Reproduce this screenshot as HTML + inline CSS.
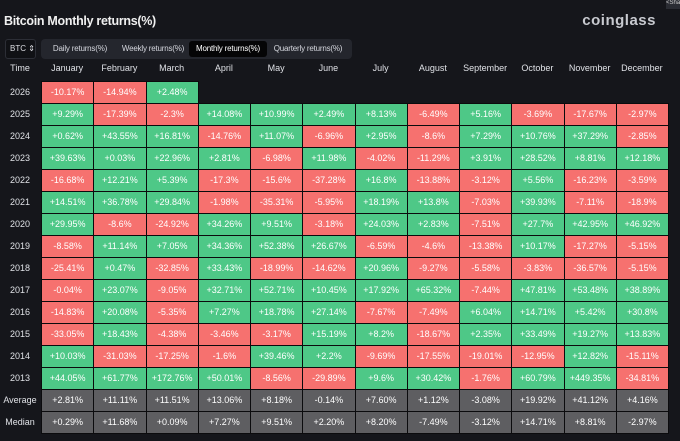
<!DOCTYPE html>
<html><head><meta charset="utf-8">
<style>
html,body{margin:0;padding:0;background:#15161b;width:680px;height:441px;overflow:hidden;font-family:"Liberation Sans",sans-serif;color:#e6e8ee}
#title{position:absolute;left:4px;top:14px;font-size:12.5px;font-weight:bold;color:#f0f0f0;letter-spacing:-0.3px}
#logo{position:absolute;right:24px;top:12px;font-size:15px;font-weight:bold;color:#c8cad0;letter-spacing:0.5px}
#share{position:absolute;right:0;top:0;width:14px;height:9px;background:#2a2c33;font-size:6px;color:#ccc}
#btc{position:absolute;left:5px;top:39px;width:29px;height:18px;border:1px solid #2c2e36;border-radius:3px;background:#101115;font-size:8px;line-height:18px;text-indent:4px;color:#dcdde2}
#tabs{position:absolute;left:41px;top:39px;width:311px;height:20px;background:#24262d;border-radius:4px}
.tab{position:absolute;top:2px;height:16px;line-height:16px;font-size:8px;color:#d5d7de;text-align:center;border-radius:3px;letter-spacing:-0.2px}
.tab.active{background:#050506;color:#fff}
.hdr{position:absolute;top:63px;height:14px;font-size:9px;color:#dfe1e6;text-align:center}
.ylab{position:absolute;left:0;width:40px;font-size:9px;color:#dfe1e6;text-align:center}
.cell{position:absolute;font-size:9px;color:#fff;text-align:center;box-sizing:border-box;border:1px solid #0b0b0d}
</style></head><body>
<div id="title">Bitcoin Monthly returns(%)</div>
<div id="logo">coinglass</div>
<div id="share">&lt;Sha</div>
<div id="btc">BTC ⇕</div>
<div id="tabs">
<div class="tab" style="left:2px;width:74px">Daily returns(%)</div>
<div class="tab" style="left:76px;width:72px">Weekly returns(%)</div>
<div class="tab active" style="left:148px;width:78px">Monthly returns(%)</div>
<div class="tab" style="left:226px;width:82px">Quarterly returns(%)</div>
</div>
<div id="grid"></div>
<script>
const months=["January","February","March","April","May","June","July","August","September","October","November","December"];
const years=["2026","2025","2024","2023","2022","2021","2020","2019","2018","2017","2016","2015","2014","2013"];
const returns=[
[-10.17,-14.94,2.48],
[9.29,-17.39,-2.3,14.08,10.99,2.49,8.13,-6.49,5.16,-3.69,-17.67,-2.97],
[0.62,43.55,16.81,-14.76,11.07,-6.96,2.95,-8.6,7.29,10.76,37.29,-2.85],
[39.63,0.03,22.96,2.81,-6.98,11.98,-4.02,-11.29,3.91,28.52,8.81,12.18],
[-16.68,12.21,5.39,-17.3,-15.6,-37.28,16.8,-13.88,-3.12,5.56,-16.23,-3.59],
[14.51,36.78,29.84,-1.98,-35.31,-5.95,18.19,13.8,-7.03,39.93,-7.11,-18.9],
[29.95,-8.6,-24.92,34.26,9.51,-3.18,24.03,2.83,-7.51,27.7,42.95,46.92],
[-8.58,11.14,7.05,34.36,52.38,26.67,-6.59,-4.6,-13.38,10.17,-17.27,-5.15],
[-25.41,0.47,-32.85,33.43,-18.99,-14.62,20.96,-9.27,-5.58,-3.83,-36.57,-5.15],
[-0.04,23.07,-9.05,32.71,52.71,10.45,17.92,65.32,-7.44,47.81,53.48,38.89],
[-14.83,20.08,-5.35,7.27,18.78,27.14,-7.67,-7.49,6.04,14.71,5.42,30.8],
[-33.05,18.43,-4.38,-3.46,-3.17,15.19,8.2,-18.67,2.35,33.49,19.27,13.83],
[10.03,-31.03,-17.25,-1.6,39.46,2.2,-9.69,-17.55,-19.01,-12.95,12.82,-15.11],
[44.05,61.77,172.76,50.01,-8.56,-29.89,9.6,30.42,-1.76,60.79,449.35,-34.81]];
const averages=[2.81,11.11,11.51,13.06,8.18,-0.14,7.60,1.12,-3.08,19.92,41.12,4.16];
const medians=[0.29,11.68,0.09,7.27,9.51,2.20,8.20,-7.49,-3.12,14.71,8.81,-2.97];
const g=document.getElementById('grid');
const X0=41,CW=52.25,Y0=81,RH=22;
function colX(i){return X0+i*CW;}
function rowY(r){return Y0+r*RH;}
function fmt(v,fixed){let s=fixed?v.toFixed(2):String(v);return (v>=0?"+":"")+s+"%";}
const bg=document.createElement('div');


bg.style.cssText=`position:absolute;left:${X0}px;top:${rowY(1)}px;width:${CW*12}px;height:${RH*15}px;background:#0b0b0d`;
g.appendChild(bg);
const th=document.createElement('div');th.className='hdr';th.textContent='Time';


th.style.left='0px';th.style.width='40px';g.appendChild(th);
months.forEach((m,i)=>{const d=document.createElement('div');d.className='hdr';d.textContent=m;


d.style.left=colX(i)+'px';d.style.width=CW+'px';g.appendChild(d);});
function addRow(label,vals,r,kind){
 const l=document.createElement('div');l.className='ylab';l.textContent=label;
 
 
 l.style.top=rowY(r)+'px';l.style.height=RH+'px';l.style.lineHeight=RH+'px';g.appendChild(l);
 vals.forEach((v,i)=>{const c=document.createElement('div');c.className='cell';
  
  
  c.style.left=colX(i)+'px';c.style.top=rowY(r)+'px';c.style.width=(CW+1)+'px';c.style.height=(RH+1)+'px';c.style.lineHeight=(RH-1)+'px';
  c.style.background=kind?'#5e5e61':(v>=0?'#4ec887':'#f6716f');
  c.textContent=fmt(v,!!kind);g.appendChild(c);});
}
years.forEach((y,r)=>addRow(y,returns[r],r,null));
addRow('Average',averages,years.length,'avg');
addRow('Median',medians,years.length+1,'med');
</script>
</body></html>
